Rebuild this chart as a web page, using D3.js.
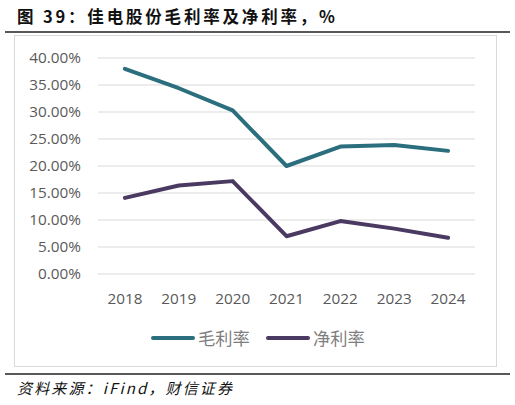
<!DOCTYPE html>
<html><head><meta charset="utf-8">
<script src="https://cdn.jsdelivr.net/npm/d3@7"></script>
<style>html,body{margin:0;padding:0;background:#fff;}svg{display:block;}</style>
</head><body>
<script>
const years = ["2018","2019","2020","2021","2022","2023","2024"];
const grossMargin = [38.0, 34.4, 30.3, 20.0, 23.6, 23.9, 22.8];
const netMargin = [14.1, 16.4, 17.2, 7.0, 9.8, 8.4, 6.7];
const yTicks = [0, 5, 10, 15, 20, 25, 30, 35, 40];
const seriesNames = ["毛利率", "净利率"];
const colors = ["#2B6E7D", "#4A3A61"];

const W = 515, H = 405;
const svg = d3.select("body").append("svg").attr("width", W).attr("height", H);

// title
svg.append("text").attr("x", 17).attr("y", 23)
  .attr("font-family", "'Noto Sans CJK SC'").attr("font-weight", "bold")
  .attr("font-size", 16.5).attr("fill", "#111")
  .attr("textLength", 318).attr("lengthAdjust", "spacing")
  .text("图 39：佳电股份毛利率及净利率，%");

svg.append("line").attr("x1", 5).attr("x2", 510).attr("y1", 32).attr("y2", 32)
  .attr("stroke", "#222").attr("stroke-width", 1.6);

// chart border
svg.append("rect").attr("x", 14.5).attr("y", 35.5).attr("width", 482).attr("height", 331)
  .attr("fill", "none").attr("stroke", "#d9d9d9").attr("stroke-width", 1);

const x = d3.scaleBand().domain(years).range([98, 475]);
const y = d3.scaleLinear().domain([0, 40]).range([274, 58]);

const g = svg.append("g");
g.selectAll("line.grid").data(yTicks).join("line").attr("class", "grid")
  .attr("x1", 98).attr("x2", 475)
  .attr("y1", d => y(d)).attr("y2", d => y(d))
  .attr("stroke", "#d9d9d9").attr("stroke-width", 1);

const yAxis = d3.axisLeft(y).tickValues(yTicks).tickSize(0).tickPadding(0)
  .tickFormat(d => d.toFixed(2) + "%");
const ya = svg.append("g").attr("transform", "translate(81,0)").call(yAxis);
ya.select(".domain").remove();
ya.selectAll("text").attr("font-family", "'Open Sans', 'DejaVu Sans'").attr("font-size", 15.3)
  .attr("fill", "#595959");

const xAxis = d3.axisBottom(x).tickSize(0).tickPadding(0);
const xa = svg.append("g").attr("transform", "translate(0,293)").call(xAxis);
xa.select(".domain").remove();
xa.selectAll("text").attr("font-family", "'Open Sans', 'DejaVu Sans'").attr("font-size", 15.3)
  .attr("fill", "#595959");

const line = d3.line().x((d, i) => x(years[i]) + x.bandwidth() / 2).y(d => y(d));
[grossMargin, netMargin].forEach((s, k) => {
  svg.append("path").datum(s).attr("d", line).attr("fill", "none")
    .attr("stroke", colors[k]).attr("stroke-width", 4)
    .attr("stroke-linejoin", "round").attr("stroke-linecap", "round");
});

// legend
const legendX = [153, 268];
seriesNames.forEach((n, k) => {
  svg.append("line").attr("x1", legendX[k]).attr("x2", legendX[k] + 40)
    .attr("y1", 338).attr("y2", 338).attr("stroke", colors[k]).attr("stroke-width", 4)
    .attr("stroke-linecap", "round");
  svg.append("text").attr("x", legendX[k] + 45).attr("y", 344.5)
    .attr("font-family", "'Noto Sans CJK SC'").attr("font-size", 17.3)
    .attr("fill", "#7f7f7f").text(n);
});

svg.append("line").attr("x1", 5).attr("x2", 510).attr("y1", 374).attr("y2", 374)
  .attr("stroke", "#222").attr("stroke-width", 1.6);

svg.append("text").attr("x", 17).attr("y", 394)
  .attr("font-family", "'Noto Sans CJK SC'").attr("font-style", "italic")
  .attr("font-size", 15).attr("fill", "#111")
  .attr("textLength", 215).attr("lengthAdjust", "spacing")
  .text("资料来源：iFind，财信证券");
</script>
</body></html>
